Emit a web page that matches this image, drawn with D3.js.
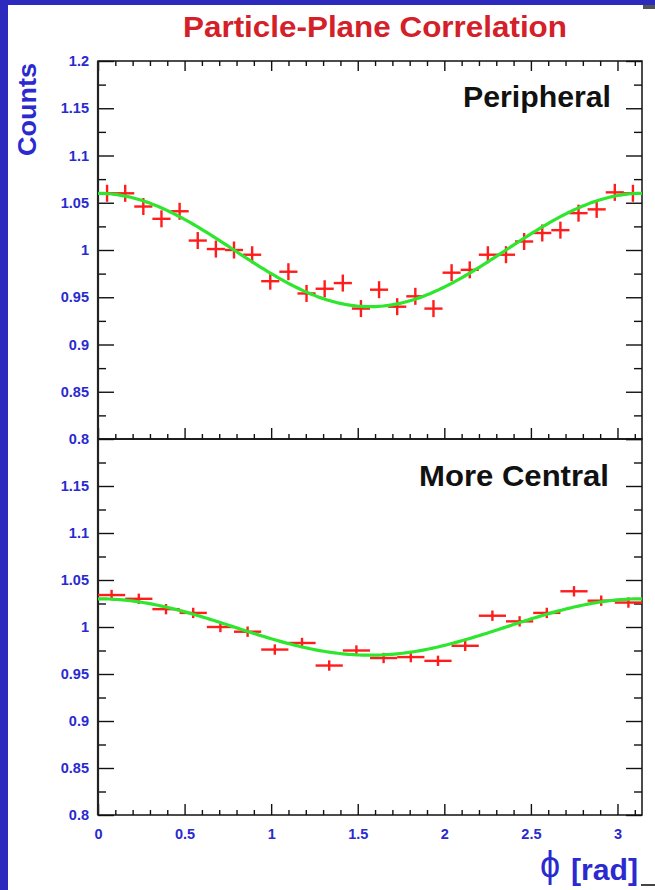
<!DOCTYPE html>
<html>
<head>
<meta charset="utf-8">
<script src="https://cdn.jsdelivr.net/npm/d3@7"></script>
<style>
  html, body { margin: 0; padding: 0; background: #ffffff; }
  svg { display: block; }
  text { font-family: "Liberation Sans", Arial, Helvetica, sans-serif; }
</style>
</head>
<body>
<svg id="chart" width="655" height="890"></svg>
<script>
// Azimuthal distribution of particles relative to the reaction plane
const titleText = "Particle-Plane Correlation";
const panelLabels = ["Peripheral", "More Central"];
const yAxisTitle = "Counts";
const xAxisUnit = "[rad]";

// Histogram bin contents (normalised counts), bins spanning 0..pi
const peripheralCounts = [1.060, 1.060, 1.046, 1.033, 1.041, 1.010, 1.001, 1.000, 0.995, 0.967,
                          0.977, 0.954, 0.959, 0.965, 0.938, 0.958, 0.940, 0.951, 0.938, 0.976,
                          0.979, 0.995, 0.995, 1.009, 1.018, 1.021, 1.039, 1.043, 1.061, 1.060];
const peripheralErrors = Array.from(peripheralCounts, () => 0.009);

const centralCounts = [1.034, 1.030, 1.019, 1.015, 1.000, 0.995, 0.976, 0.983, 0.959, 0.975,
                       0.967, 0.968, 0.964, 0.980, 1.012, 1.006, 1.015, 1.038, 1.028, 1.026];
const centralErrors = Array.from(centralCounts, () => 0.0055);

// Fit parameters for p0 * (1 + 2 v2 cos(2 phi))
const peripheralFit = { p0: 1.000, v2: 0.030 };
const centralFit = { p0: 1.000, v2: 0.015 };

// Axis tick labels
const xTickLabels = ["0", "0.5", "1", "1.5", "2", "2.5", "3"];
const yTickLabelsTop = ["0.8", "0.85", "0.9", "0.95", "1", "1.05", "1.1", "1.15", "1.2"];
const yTickLabelsBottom = ["0.8", "0.85", "0.9", "0.95", "1", "1.05", "1.1", "1.15"];

const BLUE = "#2d2bbd";
const LABEL_BLUE = "#2a2ad0";
const RED = "#ff1c1c";
const GREEN = "#2ee62e";

const svg = d3.select("#chart");

// Slide background: blue border on the left and top
svg.append("rect").attr("x", 0).attr("y", 0).attr("width", 655).attr("height", 890).attr("fill", "#ffffff");
svg.append("rect").attr("x", 0).attr("y", 0).attr("width", 8).attr("height", 890).attr("fill", BLUE);
svg.append("rect").attr("x", 0).attr("y", 0).attr("width", 655).attr("height", 5).attr("fill", BLUE);
svg.append("rect").attr("x", 643).attr("y", 5).attr("width", 12).attr("height", 4).attr("fill", "#555555");
svg.append("rect").attr("x", 641).attr("y", 884).attr("width", 14).attr("height", 2).attr("fill", "#444444");

const left = 98, right = 642;
const x = d3.scaleLinear().domain([0, Math.PI]).range([left, right]);
const panels = [
  { counts: peripheralCounts, errors: peripheralErrors, fit: peripheralFit, label: panelLabels[0],
    y: d3.scaleLinear().domain([0.8, 1.2]).range([439, 61]), yLabels: yTickLabelsTop, labelY: 107, labelX: 611, labelLen: 148 },
  { counts: centralCounts, errors: centralErrors, fit: centralFit, label: panelLabels[1],
    y: d3.scaleLinear().domain([0.8, 1.2]).range([815, 439]), yLabels: yTickLabelsBottom, labelY: 486, labelX: 609, labelLen: 190 }
];

const xMajor = xTickLabels.map(Number);
const xMinor = d3.range(0, 31.5).map(i => i / 10).filter(v => v <= Math.PI && Math.abs(v * 2 - Math.round(v * 2)) > 1e-6);
const yMajorAll = d3.range(0, 9).map(i => 0.8 + i * 0.05);
const yMinorAll = d3.range(0, 8).map(i => 0.825 + i * 0.05);

function styleAxis(g) {
  g.select(".domain").remove();
  g.selectAll(".tick line").attr("stroke", "#111").attr("stroke-width", 1.4);
}

panels.forEach((p, idx) => {
  const y = p.y;
  const top = y.range()[1], bottom = y.range()[0];
  const g = svg.append("g");

  // left axis: labelled majors plus minors
  const yl = g.append("g").attr("transform", `translate(${left},0)`)
    .call(d3.axisLeft(y).tickValues(p.yLabels.map(Number)).tickSize(-16).tickPadding(9)
      .tickFormat((d, i) => p.yLabels[i]));
  styleAxis(yl);
  yl.selectAll("text").attr("fill", LABEL_BLUE).attr("font-size", 14.5).attr("font-weight", "bold");
  const ylm = g.append("g").attr("transform", `translate(${left},0)`)
    .call(d3.axisLeft(y).tickValues(yMinorAll).tickSize(-8).tickFormat(""));
  styleAxis(ylm);

  // right axis ticks
  const yr = g.append("g").attr("transform", `translate(${right},0)`)
    .call(d3.axisRight(y).tickValues(yMajorAll).tickSize(-16).tickFormat(""));
  styleAxis(yr);
  const yrm = g.append("g").attr("transform", `translate(${right},0)`)
    .call(d3.axisRight(y).tickValues(yMinorAll).tickSize(-8).tickFormat(""));
  styleAxis(yrm);

  // top and bottom x ticks
  if (idx === 0) {
    const xt = g.append("g").attr("transform", `translate(0,${top})`)
      .call(d3.axisTop(x).tickValues(xMajor).tickSize(-10).tickFormat(""));
    styleAxis(xt);
    const xtm = g.append("g").attr("transform", `translate(0,${top})`)
      .call(d3.axisTop(x).tickValues(xMinor).tickSize(-5).tickFormat(""));
    styleAxis(xtm);
  }
  const xb = g.append("g").attr("transform", `translate(0,${bottom})`)
    .call(d3.axisBottom(x).tickValues(xMajor).tickSize(-11).tickPadding(14)
      .tickFormat((d, i) => idx === 1 ? xTickLabels[i] : ""));
  styleAxis(xb);
  xb.selectAll("text").attr("fill", LABEL_BLUE).attr("font-size", 14.5).attr("font-weight", "bold");
  const xbm = g.append("g").attr("transform", `translate(0,${bottom})`)
    .call(d3.axisBottom(x).tickValues(xMinor).tickSize(-5).tickFormat(""));
  styleAxis(xbm);

  // frame
  g.append("rect").attr("x", left).attr("y", top).attr("width", right - left).attr("height", bottom - top)
    .attr("fill", "none").attr("stroke", "#111").attr("stroke-width", 1.5);
  g.append("line").attr("x1", left).attr("x2", left).attr("y1", top).attr("y2", bottom)
    .attr("stroke", "#222").attr("stroke-width", 2.2);

  // data points with error bars
  const n = p.counts.length;
  const binW = Math.PI / n;
  const pts = g.append("g").attr("stroke", RED).attr("stroke-width", 2.4).attr("fill", "none");
  p.counts.forEach((v, i) => {
    const c = (i + 0.5) * binW;
    pts.append("line").attr("x1", x(c - binW / 2)).attr("x2", x(c + binW / 2))
      .attr("y1", y(v)).attr("y2", y(v));
    pts.append("line").attr("x1", x(c)).attr("x2", x(c))
      .attr("y1", y(v - p.errors[i])).attr("y2", y(v + p.errors[i]));
  });

  // fit curve
  const f = phi => p.fit.p0 * (1 + 2 * p.fit.v2 * Math.cos(2 * phi));
  const curve = d3.range(0, 201).map(k => [k / 200 * Math.PI, f(k / 200 * Math.PI)]);
  g.append("path").datum(curve)
    .attr("d", d3.line().x(d => x(d[0])).y(d => y(d[1])))
    .attr("fill", "none").attr("stroke", GREEN).attr("stroke-width", 3.2);

  // panel label
  g.append("text").attr("x", p.labelX).attr("y", p.labelY).attr("text-anchor", "end")
    .attr("font-size", 30).attr("font-weight", "bold").attr("fill", "#111")
    .attr("textLength", p.labelLen).attr("lengthAdjust", "spacingAndGlyphs")
    .text(p.label);
});

// title
svg.append("text").attr("x", 375).attr("y", 37).attr("text-anchor", "middle")
  .attr("font-size", 29).attr("font-weight", "bold").attr("fill", "#d42028")
  .attr("textLength", 384).attr("lengthAdjust", "spacingAndGlyphs")
  .text(titleText);

// y axis title
svg.append("text").attr("transform", "translate(36,63) rotate(-90)").attr("text-anchor", "end")
  .attr("font-size", 25).attr("font-weight", "bold").attr("fill", LABEL_BLUE)
  .attr("textLength", 93).attr("lengthAdjust", "spacingAndGlyphs")
  .text(yAxisTitle);

// x axis title
svg.append("text").attr("x", 638).attr("y", 880).attr("text-anchor", "end")
  .attr("font-size", 30).attr("font-weight", "bold").attr("fill", LABEL_BLUE)
  .attr("textLength", 67).attr("lengthAdjust", "spacingAndGlyphs")
  .text(xAxisUnit);
svg.append("text").attr("x", 550).attr("y", 877).attr("text-anchor", "middle")
  .attr("font-family", "DejaVu Sans").attr("font-size", 36).attr("fill", LABEL_BLUE)
  .text("\u03D5");
</script>
</body>
</html>
